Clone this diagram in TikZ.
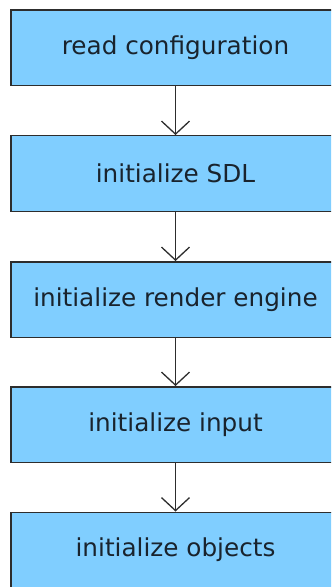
\documentclass[tikz,border=0pt]{standalone}
\usepackage{fontspec}
\setmainfont{DejaVu Sans}
\usetikzlibrary{arrows.meta}
\definecolor{boxfill}{RGB}{128,206,255}
\definecolor{boxline}{RGB}{45,45,45}
\definecolor{txt}{RGB}{25,35,45}
\tikzset{
  stepbox/.style={draw=boxline, line width=1.5bp, fill=boxfill, minimum width=329bp, minimum height=75.5bp, inner sep=0pt, text=txt, font=\fontsize{24.7bp}{29bp}\selectfont},
  flow/.style={draw=boxline, line width=1.4bp, -{Straight Barb[length=13bp,width=28bp,line width=1.3bp]}}
}
\begin{document}
\begin{tikzpicture}[x=1bp,y=-1bp]
\useasboundingbox (0,0) rectangle (331,587);
\begin{scope}
\clip (0,0) rectangle (331,587);
\node[stepbox] (a) at (175.5,48) {read configuration};
\node[stepbox] (b) at (175.5,173.5) {initialize SDL};
\node[stepbox] (c) at (175.5,299.5) {initialize render engine};
\node[stepbox] (d) at (175.5,424.5) {initialize input};
\node[stepbox] (e) at (175.5,550) {initialize objects};
\draw[flow] (a) -- (b);
\draw[flow] (b) -- (c);
\draw[flow] (c) -- (d);
\draw[flow] (d) -- (e);
\end{scope}
\end{tikzpicture}
\end{document}
